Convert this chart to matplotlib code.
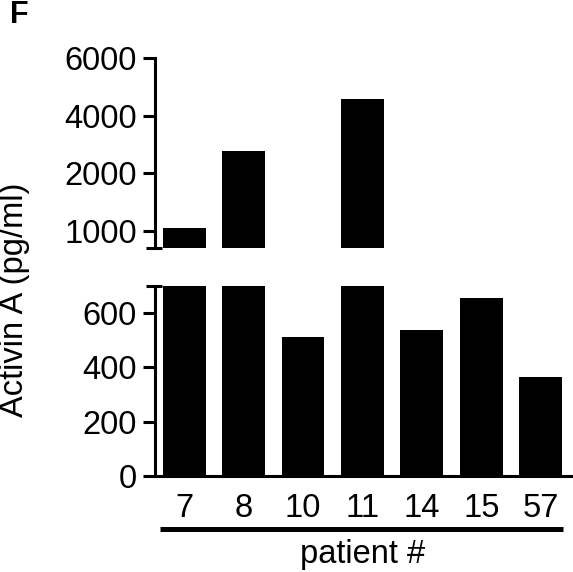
import numpy as np
import matplotlib
matplotlib.use("Agg")
import matplotlib.pyplot as plt

plt.rcParams["font.family"] = ["Liberation Sans", "DejaVu Sans"]

# ── Datos ─────────────────────────────────────────────────────────────────────
patients = ["7", "8", "10", "11", "14", "15", "57"]
activin = [1045, 2780, 511, 4570, 538, 656, 364]

# eje superior segmentado (tipo Prism): valores -> posición
top_knots = [700, 1000, 2000, 4000, 6000]
top_pos = [-0.3, 0, 1, 2, 3]
top_ticks = [1000, 2000, 4000, 6000]
bottom_ticks = [0, 200, 400, 600]

FS = 23.5
LW = 2.2

fig = plt.figure(figsize=(5.73, 5.72), dpi=100)
W, H = 573, 572


def box(x0, y0, x1, y1):
    return [x0 / W, 1 - y1 / H, (x1 - x0) / W, (y1 - y0) / H]


ax_top = fig.add_axes(box(155, 58.3, 571, 248.3))
ax_bot = fig.add_axes(box(155, 286, 571, 476))

x = np.arange(len(patients))
seg = np.interp(activin, top_knots, top_pos)

ax_top.bar(x, seg + 0.3, bottom=-0.3, width=0.72, color="black")
ax_bot.bar(x, activin, width=0.72, color="black")

for ax in (ax_top, ax_bot):
    ax.set_xlim(-0.49, 6.51)
    ax.spines["right"].set_visible(False)
    ax.spines["top"].set_visible(False)
    ax.spines["left"].set_linewidth(LW)
    ax.spines["bottom"].set_linewidth(LW)
    ax.tick_params(axis="y", length=9, width=LW, labelsize=FS, pad=4)

ax_top.spines["bottom"].set_visible(False)
ax_top.set_ylim(-0.3, 3)
ax_top.set_yticks(np.interp(top_ticks, top_knots, top_pos))
ax_top.set_yticklabels([str(t) for t in top_ticks])
ax_top.set_xticks([])

ax_bot.set_ylim(0, 700)
ax_bot.set_yticks(bottom_ticks)
ax_bot.set_xticks(x)
ax_bot.set_xticklabels(patients)
ax_bot.tick_params(axis="x", length=0, labelsize=FS, pad=12)

# marcas del corte del eje
cap = [-9 / 416, 7 / 416]
ax_top.plot(cap, [0, 0], transform=ax_top.transAxes, color="black",
            lw=LW, clip_on=False, solid_capstyle="butt")
ax_bot.plot(cap, [1, 1], transform=ax_bot.transAxes, color="black",
            lw=LW, clip_on=False, solid_capstyle="butt")

# barra bajo los números de paciente
trans = ax_bot.get_xaxis_transform()
ax_bot.plot([-0.40, 6.38], [-(529 - 476) / 190] * 2, transform=trans,
            color="black", lw=3.6, clip_on=False, solid_capstyle="butt")
ax_bot.text(0.5, -(555 - 476) / 190, "patient #", transform=ax_bot.transAxes,
            ha="center", va="center", fontsize=FS)

fig.text(15 / W, 1 - 300 / H, "Activin A (pg/ml)", rotation=90,
         ha="center", va="center", fontsize=FS)
fig.text(19 / W, 1 - 15 / H, "F", ha="center", va="center",
         fontsize=22, fontweight="bold")

fig.savefig("out.png", dpi=100)
